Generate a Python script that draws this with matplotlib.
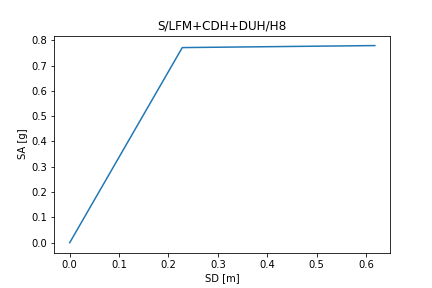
import matplotlib
matplotlib.use('Agg')
import matplotlib.pyplot as plt

sd = [0.0, 0.228, 0.618]
sa = [0.0, 0.771, 0.779]

fig, ax = plt.subplots(figsize=(6, 4), dpi=72)
fig.subplots_adjust(left=0.126, right=0.903, top=0.876, bottom=0.123)
ax.plot(sd, sa)
ax.set_xlabel('SD [m]')
ax.set_ylabel('SA [g]')
ax.set_title('S/LFM+CDH+DUH/H8')
fig.savefig('out.png', dpi=72)
